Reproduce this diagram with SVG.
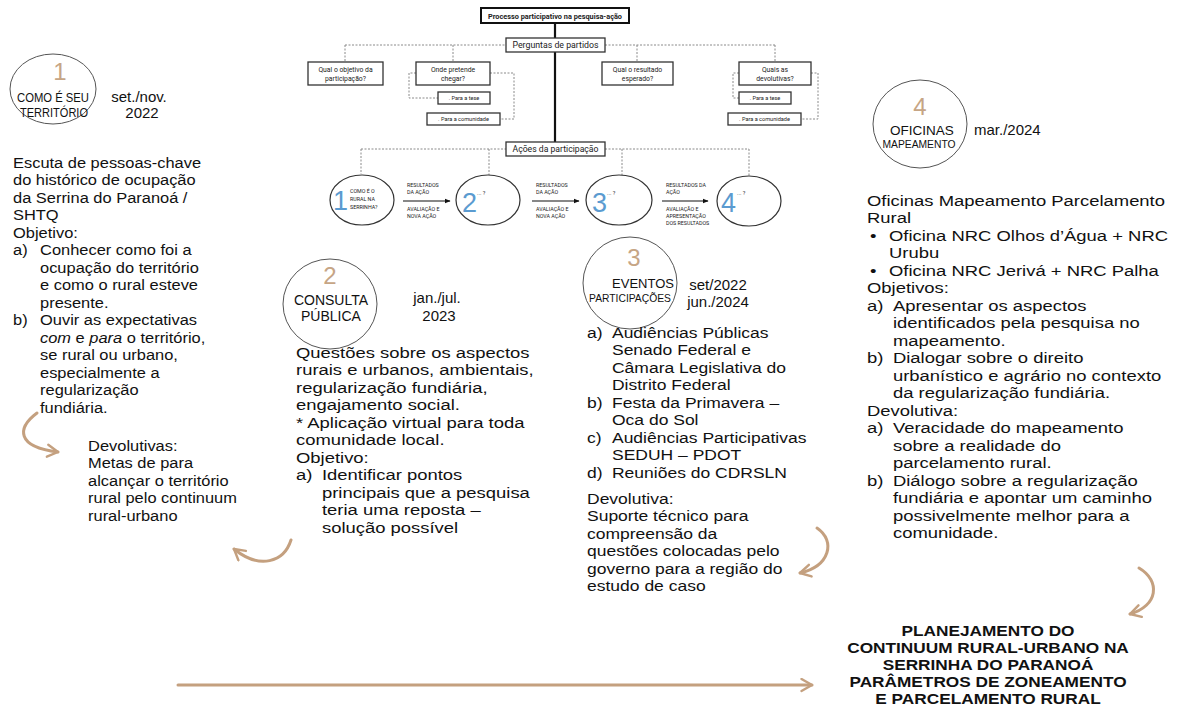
<svg xmlns="http://www.w3.org/2000/svg" width="1200" height="710" viewBox="0 0 1200 710">
<defs>
<style>
.t{font-family:"Liberation Sans",Arial,sans-serif;fill:#111}
.p{font-size:15.5px}
.s{font-family:"Roboto","Open Sans",sans-serif;fill:#222}
.box{fill:#fff;stroke:#333;stroke-width:1.3}
.dash{fill:none;stroke:#8a8a8a;stroke-width:1;stroke-dasharray:2 1.5}
.circ{fill:#fff;stroke:#555;stroke-width:1}
.sc{fill:#fff;stroke:#333;stroke-width:1.2}
.num{font-family:"Liberation Sans",Arial,sans-serif;font-size:24px;fill:#c6a585}
.blue{font-family:"Liberation Sans",Arial,sans-serif;font-size:27px;fill:#5b9bd0}
.tan{fill:none;stroke:#c4a07f;stroke-width:3;stroke-linecap:round}
.blk{fill:none;stroke:#111;stroke-width:1.2}
</style>
<marker id="tanHead" viewBox="0 0 10 10" markerWidth="5" markerHeight="5" refX="8" refY="5" orient="auto" markerUnits="strokeWidth"><path d="M1,1 L8,5 L1,9" fill="none" stroke="#c4a07f" stroke-width="1.6" stroke-linecap="round" stroke-linejoin="round"/></marker>
<marker id="blkHead" viewBox="0 0 10 10" markerWidth="5" markerHeight="5" refX="9" refY="5" orient="auto" markerUnits="strokeWidth"><path d="M0,1 L10,5 L0,9z" fill="#111"/></marker>
</defs>
<rect width="1200" height="710" fill="#fff"/>

<g id="connectors">
<line x1="555" y1="23" x2="555" y2="142" stroke="#111" stroke-width="2.2"/>
<path class="dash" d="M345 45H506M605 45H775M345 45V62M453 45V62M637 45V62M775 45V62"/>
<path class="dash" d="M416 73H409V98H438M490 73H514V119H500"/>
<path class="dash" d="M739 73H733V98H739M811 73H818V119H801"/>
<path class="dash" d="M361 149H506M605 149H749M361 149V174M489 149V175M622 149V175M749 149V176"/>
<line class="blk" x1="403" y1="201" x2="450" y2="201" marker-end="url(#blkHead)"/>
<line class="blk" x1="532" y1="201" x2="579" y2="201" marker-end="url(#blkHead)"/>
<line class="blk" x1="662" y1="201" x2="708" y2="201" marker-end="url(#blkHead)"/>
<path class="tan" d="M37 413C17 428 16 447 58 452" marker-end="url(#tanHead)"/>
<path class="tan" d="M291 540C284 562 260 570 234 549" marker-end="url(#tanHead)"/>
<path class="tan" d="M817 528C836 541 830 566 800 573" marker-end="url(#tanHead)"/>
<path class="tan" d="M1139 568C1161 581 1158 606 1130 614" marker-end="url(#tanHead)"/>
<path class="tan" d="M178 685H812" marker-end="url(#tanHead)"/>
</g>

<g id="root">
<rect x="481" y="8" width="148" height="15" fill="#fff" stroke="#111" stroke-width="2"/>
<text class="s" x="555" y="18.5" text-anchor="middle" font-size="7.5" font-weight="bold" textLength="134" lengthAdjust="spacingAndGlyphs">Processo participativo na pesquisa-ação</text>
</g>
<g id="perguntas">
<rect class="box" x="506" y="38" width="99" height="14"/>
<text class="s" x="555.5" y="48" text-anchor="middle" font-size="8.5" textLength="86" lengthAdjust="spacingAndGlyphs">Perguntas de partidos</text>
</g>
<g id="q1">
<rect class="box" x="308" y="62" width="75" height="23"/>
<text class="s" x="345.5" y="71.5" text-anchor="middle" font-size="6.8">Qual o objetivo da</text>
<text class="s" x="345.5" y="80.5" text-anchor="middle" font-size="6.8">participação?</text>
</g>
<g id="q2">
<rect class="box" x="416" y="62" width="74" height="23"/>
<text class="s" x="453" y="71.5" text-anchor="middle" font-size="6.8">Onde pretende</text>
<text class="s" x="453" y="80.5" text-anchor="middle" font-size="6.8">chegar?</text>
</g>
<g id="q2-tese">
<rect class="box" x="438" y="92" width="52" height="12"/>
<text class="s" x="464" y="100.3" text-anchor="middle" font-size="5.6">. Para a tese</text>
</g>
<g id="q2-comunidade">
<rect class="box" x="427" y="113" width="73" height="12"/>
<text class="s" x="463.5" y="121.3" text-anchor="middle" font-size="5.6">. Para a comunidade</text>
</g>
<g id="q3">
<rect class="box" x="602" y="62" width="71" height="23"/>
<text class="s" x="637.5" y="71.5" text-anchor="middle" font-size="6.8">Qual o resultado</text>
<text class="s" x="637.5" y="80.5" text-anchor="middle" font-size="6.8">esperado?</text>
</g>
<g id="q4">
<rect class="box" x="739" y="62" width="72" height="23"/>
<text class="s" x="775" y="71.5" text-anchor="middle" font-size="6.8">Quais as</text>
<text class="s" x="775" y="80.5" text-anchor="middle" font-size="6.8">devolutivas?</text>
</g>
<g id="q4-tese">
<rect class="box" x="739" y="92" width="52" height="12"/>
<text class="s" x="765" y="100.3" text-anchor="middle" font-size="5.6">. Para a tese</text>
</g>
<g id="q4-comunidade">
<rect class="box" x="728" y="113" width="73" height="12"/>
<text class="s" x="764.5" y="121.3" text-anchor="middle" font-size="5.6">. Para a comunidade</text>
</g>
<g id="acoes">
<rect class="box" x="506" y="142" width="99" height="14"/>
<text class="s" x="555.5" y="152.3" text-anchor="middle" font-size="8.5" textLength="86" lengthAdjust="spacingAndGlyphs">Ações da participação</text>
</g>

<g id="step1">
<ellipse class="sc" cx="362" cy="200" rx="32" ry="25"/>
<text class="blue" x="333" y="210">1</text>
<text class="s" x="350" y="193" font-size="5.3">COMO É O</text>
<text class="s" x="350" y="201" font-size="5.3">RURAL NA</text>
<text class="s" x="350" y="209" font-size="5.3">SERRINHA?</text>
</g>
<g id="step2">
<ellipse class="sc" cx="488" cy="200" rx="32" ry="25"/>
<text class="blue" x="462" y="212">2</text>
<text class="s" x="477" y="195" font-size="5.5">... ?</text>
</g>
<g id="step3">
<ellipse class="sc" cx="619" cy="200" rx="33" ry="25"/>
<text class="blue" x="592" y="212">3</text>
<text class="s" x="607" y="195" font-size="5.5">... ?</text>
</g>
<g id="step4">
<ellipse class="sc" cx="749" cy="201" rx="32" ry="25"/>
<text class="blue" x="721" y="212">4</text>
<text class="s" x="737" y="195" font-size="5.5">... ?</text>
</g>
<g id="arrow-labels" class="s" font-size="5.3">
<text x="407" y="187">RESULTADOS</text><text x="407" y="194">DA AÇÃO</text>
<text x="407" y="211">AVALIAÇÃO E</text><text x="407" y="218">NOVA AÇÃO</text>
<text x="536" y="187">RESULTADOS</text><text x="536" y="194">DA AÇÃO</text>
<text x="536" y="211">AVALIAÇÃO E</text><text x="536" y="218">NOVA AÇÃO</text>
<text x="666" y="187">RESULTADOS DA</text><text x="666" y="194">AÇÃO</text>
<text x="666" y="211">AVALIAÇÃO E</text><text x="666" y="218">APRESENTAÇÃO</text><text x="666" y="225">DOS RESULTADOS</text>
</g>

<g id="section1">
<ellipse class="circ" cx="53" cy="89" rx="43" ry="35"/>
<text class="num" x="60" y="80" text-anchor="middle">1</text>
<text class="t" x="53" y="102" text-anchor="middle" font-size="13" textLength="72" lengthAdjust="spacingAndGlyphs">COMO  É SEU</text>
<text class="t" x="54" y="117" text-anchor="middle" font-size="13" textLength="68" lengthAdjust="spacingAndGlyphs">TERRITÓRIO</text>
<text class="t" x="139" y="102" text-anchor="middle" font-size="15">set./nov.</text>
<text class="t" x="142" y="118" text-anchor="middle" font-size="15">2022</text>
<g class="t p" transform="translate(13 0) scale(1.06 1)">
<text x="0" y="168">Escuta de pessoas-chave</text>
<text x="0" y="185.5">do histórico de ocupação</text>
<text x="0" y="203">da Serrina do Paranoá /</text>
<text x="0" y="220.5">SHTQ</text>
<text x="0" y="238">Objetivo:</text>
<text x="0" y="255.5">a)</text><text x="25.5" y="255.5">Conhecer como foi a</text>
<text x="25.5" y="273">ocupação do território</text>
<text x="25.5" y="290.5">e como o rural esteve</text>
<text x="25.5" y="308">presente.</text>
<text x="0" y="325.5">b)</text><text x="25.5" y="325.5">Ouvir as expectativas</text>
<text x="25.5" y="343"><tspan font-style="italic">com</tspan> e <tspan font-style="italic">para</tspan> o território,</text>
<text x="25.5" y="360.5">se rural ou urbano,</text>
<text x="25.5" y="378">especialmente  a</text>
<text x="25.5" y="395.5">regularização</text>
<text x="25.5" y="413">fundiária.</text>
<text x="70.8" y="451">Devolutivas:</text>
<text x="70.8" y="468.5">Metas de para</text>
<text x="70.8" y="486">alcançar o território</text>
<text x="70.8" y="503.5">rural pelo continuum</text>
<text x="70.8" y="521">rural-urbano</text>
</g>
</g>

<g id="section2">
<ellipse class="circ" cx="330" cy="304" rx="47" ry="45"/>
<text class="num" x="330" y="284" text-anchor="middle">2</text>
<text class="t" x="331" y="305" text-anchor="middle" font-size="14">CONSULTA</text>
<text class="t" x="331" y="321" text-anchor="middle" font-size="14">PÚBLICA</text>
<text class="t" x="437" y="303" text-anchor="middle" font-size="15">jan./jul.</text>
<text class="t" x="439" y="321" text-anchor="middle" font-size="15">2023</text>
<g class="t p" transform="translate(296 0) scale(1.19 1)">
<text x="0" y="358">Questões sobre os aspectos</text>
<text x="0" y="375.5">rurais e urbanos, ambientais,</text>
<text x="0" y="393">regularização  fundiária,</text>
<text x="0" y="410.5">engajamento  social.</text>
<text x="0" y="428">* Aplicação virtual para toda</text>
<text x="0" y="445.5">comunidade  local.</text>
<text x="0" y="463">Objetivo:</text>
<text x="0" y="480.5">a)</text><text x="21.8" y="480.5">Identificar pontos</text>
<text x="21.8" y="498">principais que a pesquisa</text>
<text x="21.8" y="515.5">teria uma reposta –</text>
<text x="21.8" y="533">solução possível</text>
</g>
</g>

<g id="section3">
<ellipse class="circ" cx="630" cy="283" rx="47" ry="46"/>
<text class="num" x="634" y="266" text-anchor="middle">3</text>
<text class="t" x="643" y="288" text-anchor="middle" font-size="13">EVENTOS</text>
<text class="t" x="630" y="302" text-anchor="middle" font-size="10.3">PARTICIPAÇÕES</text>
<text class="t" x="718" y="290" text-anchor="middle" font-size="15">set/2022</text>
<text class="t" x="718" y="307" text-anchor="middle" font-size="15">jun./2024</text>
<g class="t p" transform="translate(587 0) scale(1.13 1)">
<text x="0" y="338">a)</text><text x="22.1" y="338">Audiências  Públicas</text>
<text x="22.1" y="355.5">Senado Federal e</text>
<text x="22.1" y="373">Câmara Legislativa do</text>
<text x="22.1" y="390.5">Distrito Federal</text>
<text x="0" y="408">b)</text><text x="22.1" y="408">Festa da Primavera –</text>
<text x="22.1" y="425.5">Oca do Sol</text>
<text x="0" y="443">c)</text><text x="22.1" y="443">Audiências  Participativas</text>
<text x="22.1" y="460.5">SEDUH  – PDOT</text>
<text x="0" y="478">d)</text><text x="22.1" y="478">Reuniões  do CDRSLN</text>
<text x="0" y="504">Devolutiva:</text>
<text x="0" y="521.5">Suporte técnico para</text>
<text x="0" y="539">compreensão da</text>
<text x="0" y="556.5">questões colocadas pelo</text>
<text x="0" y="574">governo para a região do</text>
<text x="0" y="591.5">estudo de caso</text>
</g>
</g>

<g id="section4">
<ellipse class="circ" cx="920" cy="124" rx="47" ry="44"/>
<text class="num" x="920" y="115" text-anchor="middle">4</text>
<text class="t" x="922" y="135" text-anchor="middle" font-size="13.5">OFICINAS</text>
<text class="t" x="919" y="148" text-anchor="middle" font-size="10.3">MAPEAMENTO</text>
<text class="t" x="974" y="135" font-size="15">mar./2024</text>
<g class="t p" transform="translate(867 0) scale(1.19 1)">
<text x="0" y="206">Oficinas Mapeamento Parcelamento</text>
<text x="0" y="223.5">Rural</text>
<text x="2.5" y="241">•</text><text x="18.5" y="241">Oficina NRC Olhos d’Água + NRC</text>
<text x="18.5" y="258.5">Urubu</text>
<text x="2.5" y="276">•</text><text x="18.5" y="276">Oficina NRC Jerivá + NRC Palha</text>
<text x="0" y="293.5">Objetivos:</text>
<text x="0" y="311">a)</text><text x="21.8" y="311">Apresentar os aspectos</text>
<text x="21.8" y="328.5">identificados pela pesquisa no</text>
<text x="21.8" y="346">mapeamento.</text>
<text x="0" y="363.5">b)</text><text x="21.8" y="363.5">Dialogar sobre o direito</text>
<text x="21.8" y="381">urbanístico e agrário no contexto</text>
<text x="21.8" y="398.5">da regularização  fundiária.</text>
<text x="0" y="416">Devolutiva:</text>
<text x="0" y="433.5">a)</text><text x="21.8" y="433.5">Veracidade do mapeamento</text>
<text x="21.8" y="451">sobre a realidade do</text>
<text x="21.8" y="468.5">parcelamento rural.</text>
<text x="0" y="486">b)</text><text x="21.8" y="486">Diálogo sobre a regularização</text>
<text x="21.8" y="503.5">fundiária e apontar um caminho</text>
<text x="21.8" y="521">possivelmente  melhor para a</text>
<text x="21.8" y="538.5">comunidade.</text>
</g>
</g>

<g id="result" class="t" font-size="15" font-weight="bold" text-anchor="middle" transform="translate(988 0) scale(1.15 1)">
<text x="0" y="636">PLANEJAMENTO  DO</text>
<text x="0" y="653">CONTINUUM RURAL-URBANO  NA</text>
<text x="0" y="670">SERRINHA  DO PARANOÁ</text>
<text x="0" y="687">PARÂMETROS DE ZONEAMENTO</text>
<text x="0" y="704">E PARCELAMENTO  RURAL</text>
</g>
</svg>
